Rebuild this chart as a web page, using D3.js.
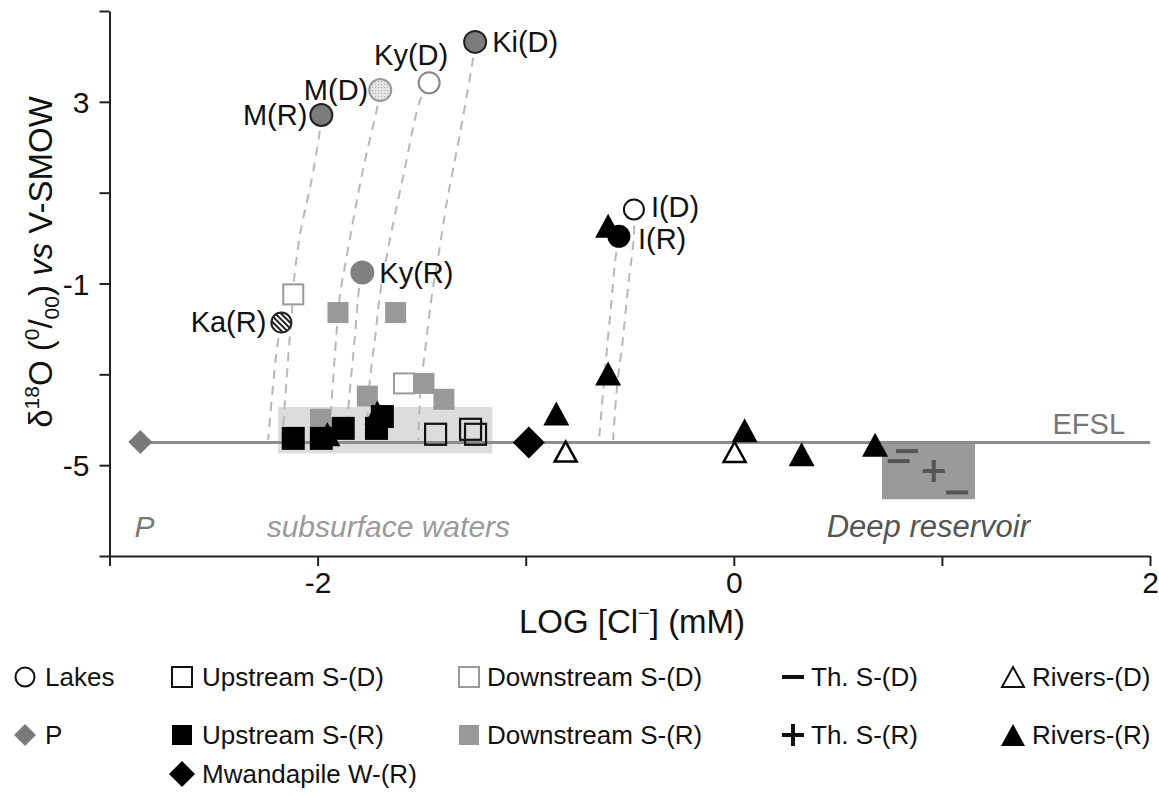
<!DOCTYPE html>
<html><head><meta charset="utf-8">
<script src="https://cdn.jsdelivr.net/npm/d3@7"></script>
<style>
body{margin:0;background:#fff;}
svg{display:block;font-family:"Liberation Sans",Arial,Helvetica,sans-serif;}
</style>
</head><body>
<svg id="chart" width="1159" height="796"></svg>
<script>
// ---------------- DATA ----------------
const xTicks = [-3, -2, -1, 0, 1, 2];
const xTickLabels = [-2, 0, 2];
const yTicks = [-7, -5, -3, -1, 1, 3, 5];
const yTickLabels = [-5, -1, 3];
const efslValue = -4.5;
const efslStartX = -2.852;

const lakeNames = ["M(R)", "M(D)", "Ky(D)", "Ki(D)", "Ky(R)", "Ka(R)", "I(D)", "I(R)"];
const lakeX = [-1.982, -1.699, -1.464, -1.243, -1.785, -2.174, -0.480, -0.552];
const lakeY = [2.71, 3.26, 3.42, 4.32, -0.76, -1.86, 0.63, 0.04];

const pX = [-2.852];
const pY = [-4.49];

const upDX = [-1.433, -1.265, -1.241];
const upDY = [-4.32, -4.21, -4.32];

const upRX = [-2.117, -1.982, -1.877, -1.689, -1.717];
const upRY = [-4.41, -4.41, -4.19, -3.93, -4.19];

const downDX = [-2.117, -1.585];
const downDY = [-1.24, -3.20];

const downRX = [-1.902, -1.625, -1.761, -1.489, -1.393, -1.986];
const downRY = [-1.64, -1.64, -3.48, -3.20, -3.55, -3.99];

const riversRX = [-1.953, -1.713, -0.604, -0.604, -0.853, 0.052, 0.326, 0.679];
const riversRY = [-4.32, -3.84, 0.27, -2.98, -3.86, -4.23, -4.76, -4.55];

const riversDX = [-0.808, 0.004];
const riversDY = [-4.70, -4.71];

const mwandX = [-0.985];
const mwandY = [-4.50];

const thDX = [0.832, 0.792, 1.073];
const thDY = [-4.69, -4.91, -5.60];

const thRX = [0.961];
const thRY = [-5.13];

const subsurfaceBoxX = [-2.19, -1.16];
const subsurfaceBoxY = [-3.72, -4.74];
const deepBoxX = [0.712, 1.159];
const deepBoxY = [-4.49, -5.75];

// evaporation trajectories (data coordinates)
const trajMR = [[-1.982, 2.71], [-1.993, 2.24], [-2.035, 1.14], [-2.083, 0.12], [-2.113, -0.91], [-2.117, -1.24], [-2.137, -2.38], [-2.170, -4.45]];
const trajKaR = [[-2.174, -1.86], [-2.194, -2.38], [-2.238, -4.45]];
const trajMD = [[-1.699, 3.26], [-1.713, 2.89], [-1.785, 1.44], [-1.857, -0.32], [-1.891, -1.20], [-1.901, -1.64], [-1.914, -2.38], [-1.945, -4.45]];
const trajKyD = [[-1.464, 3.42], [-1.507, 3.04], [-1.585, 1.44], [-1.665, -0.32], [-1.699, -1.20], [-1.723, -2.16], [-1.753, -3.33], [-1.766, -4.45]];
const trajKiD = [[-1.243, 4.32], [-1.249, 4.08], [-1.315, 2.32], [-1.377, 0.85], [-1.417, -0.32], [-1.449, -1.20], [-1.481, -2.38], [-1.505, -3.33], [-1.516, -4.45]];
const trajKyR = [[-1.785, -0.76], [-1.795, -0.91], [-1.825, -2.38], [-1.854, -3.84], [-1.862, -4.45]];
const trajID = [[-0.480, 0.63], [-0.480, 0.04], [-0.504, -0.91], [-0.537, -2.38], [-0.561, -3.26], [-0.580, -4.45]];
const trajIR = [[-0.552, 0.04], [-0.569, -0.47], [-0.593, -1.64], [-0.617, -2.82], [-0.648, -4.45]];

const legendRow1 = ["Lakes", "Upstream S-(D)", "Downstream S-(D)", "Th. S-(D)", "Rivers-(D)"];
const legendRow2 = ["P", "Upstream S-(R)", "Downstream S-(R)", "Th. S-(R)", "Rivers-(R)"];
const legendRow3 = ["Mwandapile W-(R)"];

// ---------------- STYLE ----------------
const lakeStyle = {
  "M(R)":  {fill: "#7b7b7b", stroke: "#222", r: 11, anchor: "end",   dx: -14, dy: 10},
  "M(D)":  {fill: "url(#dots)", stroke: "#999", r: 11, anchor: "end", dx: -12, dy: 10},
  "Ky(D)": {fill: "#fff", stroke: "#888", r: 10.5, anchor: "middle", dx: -18, dy: -18},
  "Ki(D)": {fill: "#7b7b7b", stroke: "#222", r: 11, anchor: "start", dx: 17, dy: 10},
  "Ky(R)": {fill: "#808080", stroke: "#808080", r: 11, anchor: "start", dx: 17, dy: 10},
  "Ka(R)": {fill: "url(#hatch)", stroke: "#222", r: 10, anchor: "end", dx: -15, dy: 9},
  "I(D)":  {fill: "#fff", stroke: "#111", r: 10, anchor: "start", dx: 17, dy: 8},
  "I(R)":  {fill: "#000", stroke: "#000", r: 10.5, anchor: "start", dx: 19, dy: 13}
};

const svg = d3.select("#chart");
const defs = svg.append("defs");
const dots = defs.append("pattern").attr("id", "dots").attr("patternUnits", "userSpaceOnUse").attr("width", 3).attr("height", 3);
dots.append("rect").attr("width", 3).attr("height", 3).attr("fill", "#e4e4e4");
dots.append("rect").attr("width", 1).attr("height", 1).attr("fill", "#b0b0b0");
const hatch = defs.append("pattern").attr("id", "hatch").attr("patternUnits", "userSpaceOnUse").attr("width", 4).attr("height", 4).attr("patternTransform", "rotate(-45)");
hatch.append("rect").attr("width", 4).attr("height", 4).attr("fill", "#fff");
hatch.append("rect").attr("width", 2).attr("height", 4).attr("fill", "#222");

const x = d3.scaleLinear().domain([-3, 2]).range([109.5, 1150]);
const y = d3.scaleLinear().domain([-7, 5]).range([556, 11]);

// background boxes
svg.append("rect")
  .attr("x", x(subsurfaceBoxX[0])).attr("y", y(subsurfaceBoxY[0]))
  .attr("width", x(subsurfaceBoxX[1]) - x(subsurfaceBoxX[0]))
  .attr("height", y(subsurfaceBoxY[1]) - y(subsurfaceBoxY[0]))
  .attr("fill", "#dcdcdc");
svg.append("rect")
  .attr("x", x(deepBoxX[0])).attr("y", y(deepBoxY[0]))
  .attr("width", x(deepBoxX[1]) - x(deepBoxX[0]))
  .attr("height", y(deepBoxY[1]) - y(deepBoxY[0]))
  .attr("fill", "#9a9a9a");

// EFSL line
svg.append("line")
  .attr("x1", x(efslStartX)).attr("x2", x(2))
  .attr("y1", y(efslValue)).attr("y2", y(efslValue))
  .attr("stroke", "#8c8c8c").attr("stroke-width", 3);
svg.append("text").attr("x", x(1.88)).attr("y", y(efslValue) - 8)
  .attr("text-anchor", "end").attr("font-size", 29).attr("fill", "#777").text("EFSL");

// trajectories
const line = d3.line().x(d => x(d[0])).y(d => y(d[1])).curve(d3.curveCatmullRom.alpha(0.5));
[trajMR, trajKaR, trajMD, trajKyD, trajKiD, trajKyR, trajID, trajIR].forEach(t => {
  svg.append("path").attr("d", line(t)).attr("fill", "none")
    .attr("stroke", "#b8b8b8").attr("stroke-width", 2).attr("stroke-dasharray", "9,7");
});

// axes
const xAxis = d3.axisBottom(x).tickValues(xTicks)
  .tickFormat(d => xTickLabels.includes(d) ? String(d) : "")
  .tickSize(10).tickSizeOuter(0).tickPadding(4);
const gx = svg.append("g").attr("transform", `translate(0,${y(-7)})`).call(xAxis);
const yAxis = d3.axisLeft(y).tickValues(yTicks)
  .tickFormat(d => yTickLabels.includes(d) ? String(d) : "")
  .tickSize(10).tickSizeOuter(0).tickPadding(10);
const gy = svg.append("g").attr("transform", `translate(${x(-3)},0)`).call(yAxis);
[gx, gy].forEach(g => {
  g.select(".domain").attr("stroke", "#222").attr("stroke-width", 2);
  g.selectAll(".tick line").attr("stroke", "#222").attr("stroke-width", 2);
  g.selectAll(".tick text").attr("font-size", 30).attr("fill", "#111")
    .attr("font-family", "'Liberation Sans',Arial,sans-serif");
});
gy.selectAll(".tick text").attr("dy", "0.36em");
gx.selectAll(".tick text").attr("dy", "0.76em");

// axis titles
const xt = svg.append("text").attr("x", 632).attr("y", 633).attr("text-anchor", "middle")
  .attr("font-size", 33).attr("fill", "#111");
xt.append("tspan").text("LOG [Cl");
xt.append("tspan").attr("dy", -13).attr("font-size", 20).text("−");
xt.append("tspan").attr("dy", 13).text("] (mM)");

const yt = svg.append("text").attr("transform", "translate(52,262) rotate(-90)")
  .attr("text-anchor", "middle").attr("font-size", 33).attr("fill", "#111");
yt.append("tspan").text("δ");
yt.append("tspan").attr("dy", -13).attr("font-size", 21).text("18");
yt.append("tspan").attr("dy", 13).text("O (");
yt.append("tspan").attr("dy", -13).attr("font-size", 21).text("0");
yt.append("tspan").attr("dy", 13).text("/");
yt.append("tspan").attr("dy", 7).attr("font-size", 21).text("00");
yt.append("tspan").attr("dy", -7).text(") ");
yt.append("tspan").attr("font-style", "italic").text("vs");
yt.append("tspan").text(" V-SMOW");

// region labels
svg.append("text").attr("x", x(-2.88)).attr("y", 537).attr("font-size", 30)
  .attr("font-style", "italic").attr("fill", "#777").text("P");
svg.append("text").attr("x", x(-1.66)).attr("y", 537).attr("font-size", 30).attr("text-anchor", "middle")
  .attr("font-style", "italic").attr("fill", "#9a9a9a").text("subsurface waters");
svg.append("text").attr("x", x(0.935)).attr("y", 537).attr("font-size", 31).attr("text-anchor", "middle")
  .attr("font-style", "italic").attr("fill", "#555").text("Deep reservoir");

// ---------------- MARKERS ----------------
function zip(xs, ys) { return xs.map((v, i) => [v, ys[i]]); }
function square(g, pts, size, fill, stroke, sw) {
  g.selectAll(null).data(pts).enter().append("rect")
    .attr("x", d => x(d[0]) - size / 2).attr("y", d => y(d[1]) - size / 2)
    .attr("width", size).attr("height", size)
    .attr("fill", fill).attr("stroke", stroke).attr("stroke-width", sw);
}
function triPath(cx, cy, w, h) {
  return `M${cx},${cy - h / 2}L${cx + w / 2},${cy + h / 2}L${cx - w / 2},${cy + h / 2}Z`;
}
function triangle(g, pts, w, h, fill, stroke, sw) {
  g.selectAll(null).data(pts).enter().append("path")
    .attr("d", d => triPath(x(d[0]), y(d[1]), w, h))
    .attr("fill", fill).attr("stroke", stroke).attr("stroke-width", sw).attr("stroke-linejoin", "miter");
}
function diamondPath(cx, cy, r) {
  return `M${cx},${cy - r}L${cx + r},${cy}L${cx},${cy + r}L${cx - r},${cy}Z`;
}
function diamond(g, pts, r, fill) {
  g.selectAll(null).data(pts).enter().append("path")
    .attr("d", d => diamondPath(x(d[0]), y(d[1]), r)).attr("fill", fill);
}

const mk = svg.append("g");
square(mk, zip(downRX, downRY), 21, "#999", "none", 0);
square(mk, zip(downDX, downDY), 20, "#fff", "#9a9a9a", 2);
triangle(mk, zip(riversRX, riversRY), 26, 24, "#000", "none", 0);
square(mk, zip(upRX, upRY), 23, "#000", "none", 0);
square(mk, zip(upDX, upDY), 21, "none", "#111", 2.2);
triangle(mk, zip(riversDX, riversDY), 22, 20, "#fff", "#000", 2.5);
diamond(mk, zip(mwandX, mwandY), 16, "#000");
diamond(mk, zip(pX, pY), 12, "#7a7a7a");

// Thermal springs
mk.selectAll(null).data(zip(thDX, thDY)).enter().append("line")
  .attr("x1", d => x(d[0]) - 11).attr("x2", d => x(d[0]) + 11)
  .attr("y1", d => y(d[1])).attr("y2", d => y(d[1]))
  .attr("stroke", "#555").attr("stroke-width", 4);
zip(thRX, thRY).forEach(d => {
  mk.append("path").attr("d", `M${x(d[0]) - 11},${y(d[1])}H${x(d[0]) + 11}M${x(d[0])},${y(d[1]) - 11}V${y(d[1]) + 11}`)
    .attr("stroke", "#555").attr("stroke-width", 4);
});

// lakes
lakeNames.forEach((n, i) => {
  const s = lakeStyle[n];
  const cx = x(lakeX[i]), cy = y(lakeY[i]);
  mk.append("circle").attr("cx", cx).attr("cy", cy).attr("r", s.r)
    .attr("fill", s.fill).attr("stroke", s.stroke).attr("stroke-width", 2);
  mk.append("text").attr("x", cx + s.dx).attr("y", cy + s.dy).attr("text-anchor", s.anchor)
    .attr("font-size", 29).attr("fill", "#111").text(n);
});

// ---------------- LEGEND ----------------
const lg = svg.append("g");
const colSym = [25, 182, 469, 793, 1013];
const colTxt = [45, 202, 487, 811, 1032];
const rowY = [677, 735, 774];
const lfs = 26;
function ltext(i, r, t) {
  lg.append("text").attr("x", colTxt[i]).attr("y", rowY[r] + 9).attr("font-size", lfs).attr("fill", "#111").text(t);
}
// row 1
lg.append("circle").attr("cx", colSym[0]).attr("cy", rowY[0]).attr("r", 9.5).attr("fill", "#fff").attr("stroke", "#111").attr("stroke-width", 2);
lg.append("rect").attr("x", colSym[1] - 10).attr("y", rowY[0] - 10).attr("width", 20).attr("height", 20).attr("fill", "#fff").attr("stroke", "#111").attr("stroke-width", 2);
lg.append("rect").attr("x", colSym[2] - 10).attr("y", rowY[0] - 10).attr("width", 20).attr("height", 20).attr("fill", "#fff").attr("stroke", "#9a9a9a").attr("stroke-width", 2);
lg.append("line").attr("x1", colSym[3] - 11).attr("x2", colSym[3] + 11).attr("y1", rowY[0]).attr("y2", rowY[0]).attr("stroke", "#111").attr("stroke-width", 4);
lg.append("path").attr("d", triPath(colSym[4], rowY[0], 22, 20)).attr("fill", "#fff").attr("stroke", "#111").attr("stroke-width", 2);
legendRow1.forEach((t, i) => ltext(i, 0, t));
// row 2
lg.append("path").attr("d", diamondPath(colSym[0], rowY[1], 11)).attr("fill", "#7a7a7a");
lg.append("rect").attr("x", colSym[1] - 10).attr("y", rowY[1] - 10).attr("width", 20).attr("height", 20).attr("fill", "#000");
lg.append("rect").attr("x", colSym[2] - 10).attr("y", rowY[1] - 10).attr("width", 20).attr("height", 20).attr("fill", "#999");
lg.append("path").attr("d", `M${colSym[3] - 11},${rowY[1]}H${colSym[3] + 11}M${colSym[3]},${rowY[1] - 11}V${rowY[1] + 11}`).attr("stroke", "#111").attr("stroke-width", 4);
lg.append("path").attr("d", triPath(colSym[4], rowY[1], 24, 22)).attr("fill", "#000");
legendRow2.forEach((t, i) => ltext(i, 1, t));
// row 3
lg.append("path").attr("d", diamondPath(colSym[1], rowY[2], 13)).attr("fill", "#000");
legendRow3.forEach(t => ltext(1, 2, t));
</script>
</body></html>
